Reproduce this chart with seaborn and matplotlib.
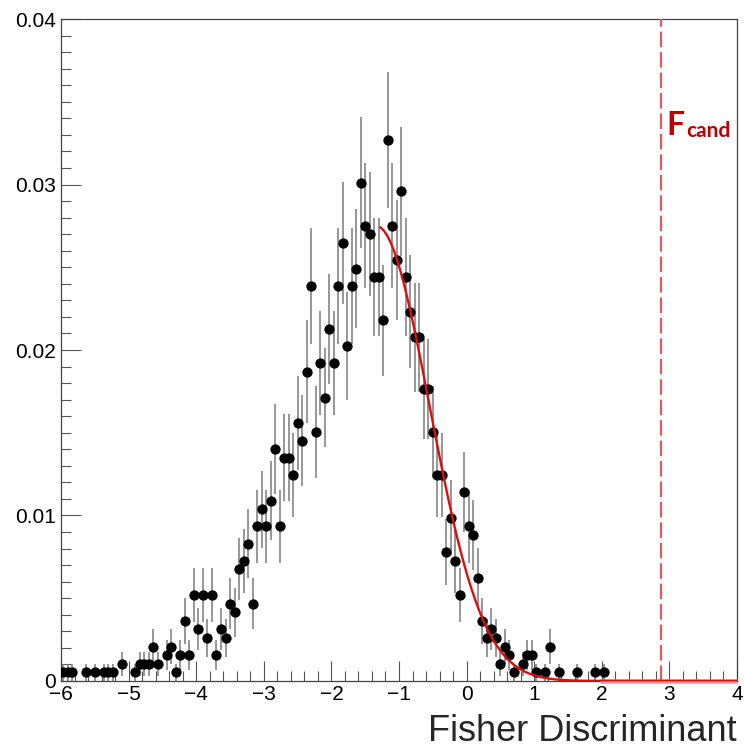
import numpy as np
import pandas as pd
import matplotlib
matplotlib.use("Agg")
import matplotlib.pyplot as plt
import seaborn as sns

# ---- data ----
x_min, x_max, n_bins = -6.0, 4.0, 150
bin_counts = [
    1, 1, 1, 0, 0, 1, 0, 1, 0, 1,
    1, 1, 0, 2, 0, 0, 1, 2, 2, 2,
    4, 2, 0, 3, 4, 1, 3, 7, 3, 10,
    6, 10, 5, 10, 3, 6, 5, 9, 8, 13,
    14, 16, 9, 18, 20, 18, 21, 27, 18, 26,
    26, 24, 30, 28, 36, 46, 29, 37, 33, 41,
    37, 46, 51, 39, 46, 48, 58, 53, 52, 47,
    47, 42, 63, 53, 49, 57, 47, 43, 40, 40,
    34, 34, 29, 24, 24, 15, 19, 14, 10, 22,
    18, 17, 12, 7, 5, 6, 5, 2, 4, 3,
    1, 0, 2, 3, 3, 1, 0, 1, 4, 0,
    1, 0, 0, 0, 1, 0, 0, 0, 1, 0,
    1, 0, 0, 0, 0, 0, 0, 0, 0, 0,
    0, 0, 0, 0, 0, 0, 0, 0, 0, 0,
    0, 0, 0, 0, 0, 0, 0, 0, 0, 0,
]
# Gaussian fit drawn in red (amplitude, mean, sigma, start of range)
fit_amp, fit_mean, fit_sigma, fit_start = 0.0275, -1.34, 0.79, -1.28
f_cand = 2.876
x_ticks = [-6, -5, -4, -3, -2, -1, 0, 1, 2, 3, 4]
y_ticks = [0, 0.01, 0.02, 0.03, 0.04]
y_tick_labels = ["0", "0.01", "0.02", "0.03", "0.04"]

# ---- build table ----
counts = np.array(bin_counts, dtype=float)
width = (x_max - x_min) / n_bins
centers = x_min + (np.arange(n_bins) + 0.5) * width
total = counts.sum()
df = pd.DataFrame({"x": centers, "y": counts / total,
                   "err": np.sqrt(counts) / total})
df = df[counts > 0]

fx = np.linspace(fit_start, x_max, 400)
fit_df = pd.DataFrame({"x": fx,
                       "y": fit_amp * np.exp(-0.5 * ((fx - fit_mean) / fit_sigma) ** 2)})

sns.set_style("ticks")
plt.rcParams["font.family"] = ["Liberation Sans", "DejaVu Sans"]

fig = plt.figure(figsize=(7.44, 7.49), dpi=100)
ax = fig.add_axes([0.082, 0.0908, 0.9086, 0.8838])

# error bars
ax.errorbar(df["x"], df["y"], yerr=df["err"], fmt="none",
            ecolor="#7a7a7a", elinewidth=1.1, zorder=2)
# points
sns.scatterplot(data=df, x="x", y="y", ax=ax, color="black", s=55,
                marker="o", edgecolor="black", linewidth=0, zorder=3)

# light band at zero
ax.plot([1.97, x_max], [0, 0], color="#e77b7b", lw=3.5, alpha=0.7,
        solid_capstyle="butt", zorder=4, clip_on=False)
# fit
sns.lineplot(data=fit_df, x="x", y="y", ax=ax, color="#d81010", lw=1.7,
             zorder=5)

# candidate line
ax.axvline(f_cand, color="#e25a5a", lw=1.6, ls=(0, (7, 2.2)), zorder=4)
ax.text(f_cand + 0.08, 0.0330, "F", color="#c00000", fontsize=23,
        fontweight="bold", family=["Lato", "DejaVu Sans"], ha="left",
        va="baseline")
ax.text(f_cand + 0.37, 0.03285, "cand", color="#c00000", fontsize=15,
        fontweight="bold", family=["Lato", "DejaVu Sans"], ha="left",
        va="baseline")

ax.set_xlim(x_min, x_max)
ax.set_ylim(0, 0.04)
ax.set_xticks(x_ticks)
ax.set_xticklabels([("\u2212" + str(abs(t))) if t < 0 else str(t) for t in x_ticks])
ax.set_yticks(y_ticks)
ax.set_yticklabels(y_tick_labels)
ax.set_xticks(np.arange(-6, 4.0001, 0.2), minor=True)
ax.set_yticks(np.arange(0, 0.04001, 0.001), minor=True)
ax.tick_params(which="major", direction="in", length=14.5, width=0.8,
               labelsize=15, colors="black")
ax.tick_params(axis="x", which="major", pad=3)
ax.tick_params(axis="y", which="major", pad=3.5)
ax.tick_params(which="minor", direction="in", length=7.5, width=0.8)
ax.tick_params(axis="both", which="both", color="#555555")

for s in ax.spines.values():
    s.set_color("#444444")
    s.set_linewidth(0.9)
    s.set_visible(True)

ax.set_xlabel("Fisher Discriminant", fontsize=26, loc="right", labelpad=7)
ax.set_ylabel("")

fig.savefig("out.png", dpi=100)
